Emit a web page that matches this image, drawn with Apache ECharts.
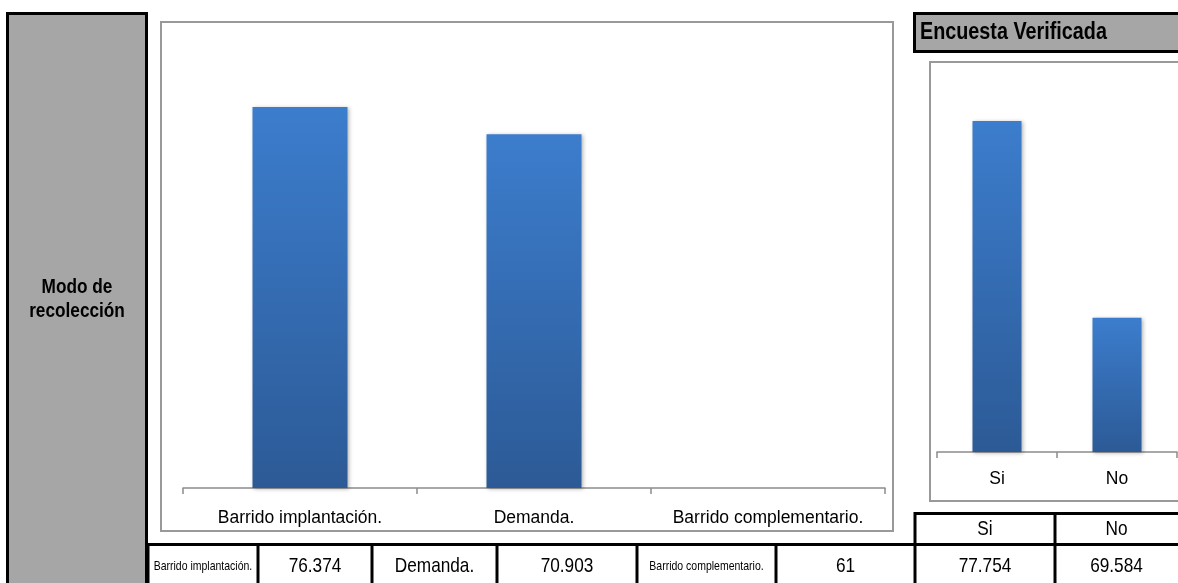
<!DOCTYPE html>
<html><head><meta charset="utf-8">
<script src="https://cdn.jsdelivr.net/npm/echarts@6/dist/echarts.min.js"></script>
<style>html,body{margin:0;padding:0;background:#fff}#c{width:1178px;height:583px}</style>
</head><body><div id="c"></div>
<script>
const modeCategories = ['Barrido implantación.', 'Demanda.', 'Barrido complementario.'];
const modeBarValues = [76.374, 70.903, null];
const modeTableValues = ['76.374', '70.903', '61'];
const verifCategories = ['Si', 'No'];
const verifValues = [77.754, 69.584];
const verifTableValues = ['77.754', '69.584'];
const sideTitle = 'Modo de\nrecolección';
const verifTitle = 'Encuesta Verificada';

const FN = "'Liberation Sans', Arial, sans-serif";
const chart = echarts.init(document.getElementById('c'));
const barColor = new echarts.graphic.LinearGradient(0, 0, 0, 1, [
  {offset: 0, color: '#3c7dcd'}, {offset: 1, color: '#2c5a96'}]);

const g = [];
function rect(x, y, w, h, fill, stroke, lw, z) {
  g.push({type: 'rect', z: z || 0, shape: {x, y, width: w, height: h},
    style: {fill: fill, stroke: stroke, lineWidth: lw}});
}
function text(t, x, y, size, bold, align, sx) {
  g.push({type: 'text', z: 10, x: x, y: y, scaleX: sx || 0.82, style: {text: t, x: 0, y: 0, fill: '#000',
    font: (bold ? 'bold ' : '') + size + 'px ' + FN,
    textAlign: align || 'center', textVerticalAlign: 'middle', lineHeight: 24}});
}
// side gray box
rect(7.5, 13.5, 139, 600, '#a6a6a6', '#000', 3);
text(sideTitle, 77, 299, 21, true);
// verification title box
rect(914.5, 13.5, 300, 38, '#a6a6a6', '#000', 3);
text(verifTitle, 920, 33, 23, true, 'left', 0.86);
// chart boxes
rect(161, 22, 732, 509, '#fff', '#999', 2);
rect(930, 62, 300, 439, '#fff', '#999', 2);
// bottom table
const cols = [148, 258, 372, 497, 637, 776, 915, 1055, 1178];
const rowVals = [];
modeCategories.forEach((c, i) => { rowVals.push({t: c, small: c.length > 12}); rowVals.push({t: modeTableValues[i]}); });
verifTableValues.forEach(v => rowVals.push({t: v}));
rect(915, 513.5, 300, 100, '#fff', '#000', 3, 5);
rect(148, 544.5, 1100, 100, '#fff', '#000', 3, 5);
for (let i = 0; i < rowVals.length; i++) {
  const cx = (cols[i] + cols[i + 1]) / 2;
  text(rowVals[i].t, cx, 566, rowVals[i].small ? 12.8 : 21, false);
  if (i > 0) g.push({type: 'line', z: 6, shape: {x1: cols[i], y1: 544, x2: cols[i], y2: 590}, style: {stroke: '#000', lineWidth: 3}});
}
verifCategories.forEach((c, i) => text(c, (cols[6 + i] + cols[7 + i]) / 2, 529, 21, false));
g.push({type: 'line', z: 6, shape: {x1: 1055, y1: 513, x2: 1055, y2: 545}, style: {stroke: '#000', lineWidth: 3}});

const axisCommon = {
  type: 'category', boundaryGap: true,
  axisLine: {lineStyle: {color: '#8c8c8c', width: 1.5}},
  axisTick: {show: true, length: 6, alignWithLabel: false, lineStyle: {color: '#8c8c8c', width: 1.5}},
  axisLabel: {color: '#000', fontSize: 17.5, fontFamily: FN, interval: 0}
};
const barStyle = {color: barColor, shadowBlur: 4, shadowColor: 'rgba(0,0,0,0.3)', shadowOffsetX: 1, shadowOffsetY: 1};

chart.setOption({
  animation: false,
  backgroundColor: '#fff',
  graphic: g,
  grid: [
    {left: 183, top: 39, width: 702, height: 449},
    {left: 937, top: 67, width: 240, height: 385}
  ],
  xAxis: [
    Object.assign({}, axisCommon, {gridIndex: 0, data: modeCategories, axisLabel: Object.assign({}, axisCommon.axisLabel, {margin: 21})}),
    Object.assign({}, axisCommon, {gridIndex: 1, data: verifCategories, axisLabel: Object.assign({}, axisCommon.axisLabel, {margin: 18})})
  ],
  yAxis: [
    {type: 'value', gridIndex: 0, min: 0, max: 90, show: false},
    {type: 'value', gridIndex: 1, min: 64, max: 80, show: false}
  ],
  series: [
    {type: 'bar', xAxisIndex: 0, yAxisIndex: 0, data: modeBarValues, barWidth: 95, itemStyle: barStyle, z: 3},
    {type: 'bar', xAxisIndex: 1, yAxisIndex: 1, data: verifValues, barWidth: 49, itemStyle: barStyle, z: 3}
  ]
});
</script></body></html>
